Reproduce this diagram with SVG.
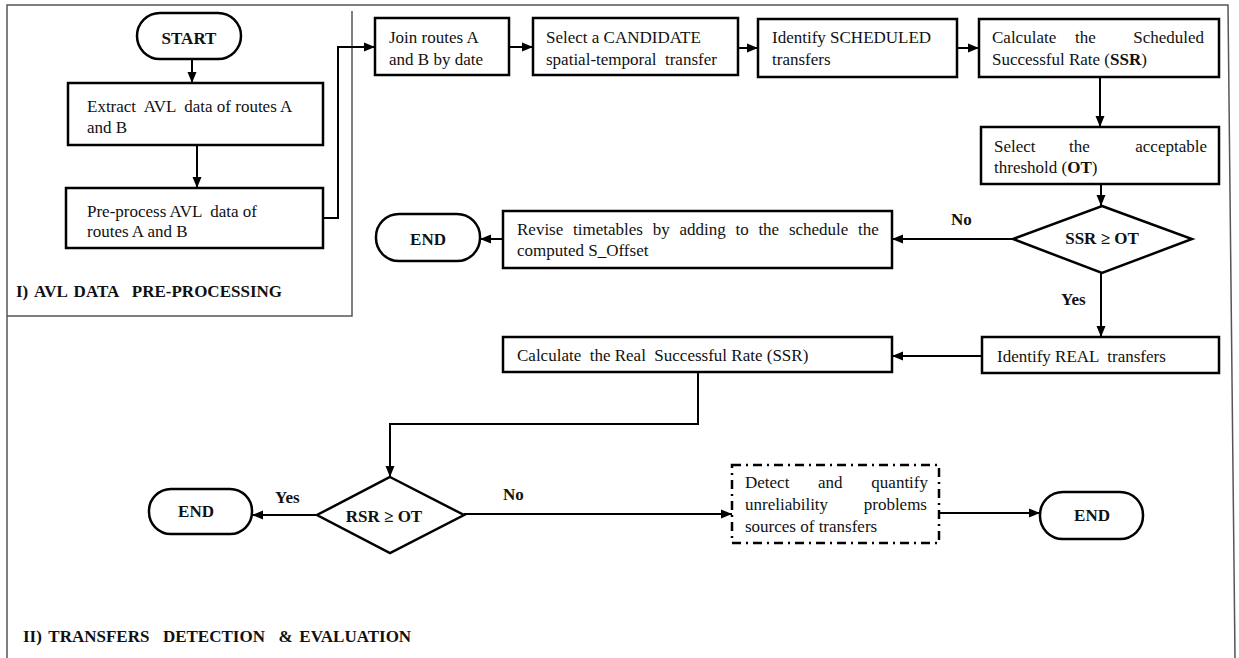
<svg xmlns="http://www.w3.org/2000/svg" width="1239" height="658" viewBox="0 0 1239 658">
<defs>
<marker id="ah" markerUnits="userSpaceOnUse" markerWidth="12" markerHeight="10" refX="11" refY="5" orient="auto">
<path d="M0,0.5 L11,5 L0,9.5 Z" fill="#000"/>
</marker>
<style>
.t{font-family:"Liberation Serif","Times New Roman",serif;font-size:17px;fill:#111;white-space:pre}
.b{font-weight:bold}
.m{text-anchor:middle}
.e{text-anchor:end}
.box{fill:#fff;stroke:#000;stroke-width:2.5}
.frame{fill:none;stroke:#555;stroke-width:1.5}
.c{fill:none;stroke:#000;stroke-width:2;marker-end:url(#ah)}
</style>
</defs>
<rect width="1239" height="658" fill="#fff"/>
<g id="frame">
<path class="frame" d="M7,658 V5 H1228 L1235,658"/>
<path class="frame" d="M7,316 H352 V11"/>
<text class="t b" x="16" y="297" word-spacing="2.5">I) AVL DATA  PRE-PROCESSING</text>
<text class="t b" x="23" y="642" word-spacing="2.5">II) TRANSFERS  DETECTION  &amp; EVALUATION</text>
</g>
<g id="connectors">
<path class="c" d="M192,59 V83"/>
<path class="c" d="M197,145 V188"/>
<path class="c" d="M323,218 H338 V47 H375"/>
<path class="c" d="M509,47 H533"/>
<path class="c" d="M738,48 H758"/>
<path class="c" d="M957,48 H979"/>
<path class="c" d="M1100,77 V127"/>
<path class="c" d="M1101,184 V206"/>
<path class="c" d="M1013,239 H892"/>
<path class="c" d="M503,239 H480"/>
<path class="c" d="M1101,273 V337"/>
<path class="c" d="M982,356 H892"/>
<path class="c" d="M698,372 V424 H390 V477"/>
<path class="c" d="M317,515 H252"/>
<path class="c" d="M464,514 H732"/>
<path class="c" d="M939,513 H1040"/>
<text class="t b" x="951" y="225">No</text>
<text class="t b" x="1061" y="305">Yes</text>
<text class="t b" x="275" y="503">Yes</text>
<text class="t b" x="503" y="500">No</text>
</g>
<g id="start">
<rect class="box" x="137" y="13" width="104" height="46" rx="23"/>
<text class="t b m" x="189" y="44">START</text>
</g>
<g id="extract">
<rect class="box" x="68" y="83" width="255" height="62"/>
<text class="t" x="87" y="112">Extract  AVL  data of routes A</text>
<text class="t" x="87" y="133">and B</text>
</g>
<g id="preprocess">
<rect class="box" x="66" y="188" width="257" height="60"/>
<text class="t" x="87" y="217">Pre-process AVL  data of</text>
<text class="t" x="87" y="237">routes A and B</text>
</g>
<g id="join">
<rect class="box" x="375" y="18" width="134" height="57"/>
<text class="t" x="389" y="43">Join routes A</text>
<text class="t" x="389" y="65">and B by date</text>
</g>
<g id="candidate">
<rect class="box" x="533" y="18" width="205" height="57"/>
<text class="t" x="546" y="43">Select a CANDIDATE</text>
<text class="t" x="546" y="65">spatial-temporal  transfer</text>
</g>
<g id="scheduled">
<rect class="box" x="758" y="19" width="199" height="58"/>
<text class="t" x="772" y="43">Identify SCHEDULED</text>
<text class="t" x="772" y="65">transfers</text>
</g>
<g id="ssr">
<rect class="box" x="979" y="19" width="240" height="58"/>
<text class="t" x="992" y="43">Calculate</text>
<text class="t" x="1075" y="43">the</text>
<text class="t e" x="1204" y="43">Scheduled</text>
<text class="t" x="992" y="65">Successful Rate (<tspan class="b">SSR</tspan>)</text>
</g>
<g id="threshold">
<rect class="box" x="981" y="127" width="238" height="57"/>
<text class="t" x="994" y="152">Select</text>
<text class="t" x="1069" y="152">the</text>
<text class="t e" x="1207" y="152">acceptable</text>
<text class="t" x="994" y="173">threshold (<tspan class="b">OT</tspan>)</text>
</g>
<g id="dec-ssr">
<path class="box" d="M1102,206 L1192,239 L1102,273 L1013,239 Z"/>
<text class="t b m" x="1102" y="244">SSR ≥ OT</text>
</g>
<g id="revise">
<rect class="box" x="503" y="211" width="389" height="57"/>
<text class="t" x="517" y="235" word-spacing="5.5">Revise timetables by adding to the schedule the</text>
<text class="t" x="517" y="256">computed S_Offset</text>
</g>
<g id="end1">
<rect class="box" x="376" y="214" width="104" height="47" rx="23"/>
<text class="t b m" x="428" y="245">END</text>
</g>
<g id="real">
<rect class="box" x="982" y="337" width="237" height="36"/>
<text class="t" x="997" y="362">Identify REAL  transfers</text>
</g>
<g id="rsr-calc">
<rect class="box" x="503" y="337" width="389" height="35"/>
<text class="t" x="517" y="361">Calculate  the Real  Successful Rate (SSR)</text>
</g>
<g id="dec-rsr">
<path class="box" d="M390,477 L464,515 L390,553 L317,515 Z"/>
<text class="t b m" x="384" y="522">RSR ≥ OT</text>
</g>
<g id="end2">
<rect class="box" x="149" y="489" width="103" height="45" rx="22"/>
<text class="t b m" x="196" y="517">END</text>
</g>
<g id="detect">
<rect x="732" y="465" width="207" height="78" fill="#fff" stroke="#000" stroke-width="2.5" stroke-dasharray="9,5,2,5"/>
<text class="t" x="745" y="488">Detect</text>
<text class="t" x="818" y="488">and</text>
<text class="t e" x="928" y="488">quantify</text>
<text class="t" x="745" y="510">unreliability</text>
<text class="t e" x="927" y="510">problems</text>
<text class="t" x="745" y="532">sources of transfers</text>
</g>
<g id="end3">
<rect class="box" x="1040" y="492" width="103" height="47" rx="23"/>
<text class="t b m" x="1092" y="521">END</text>
</g>
</svg>
